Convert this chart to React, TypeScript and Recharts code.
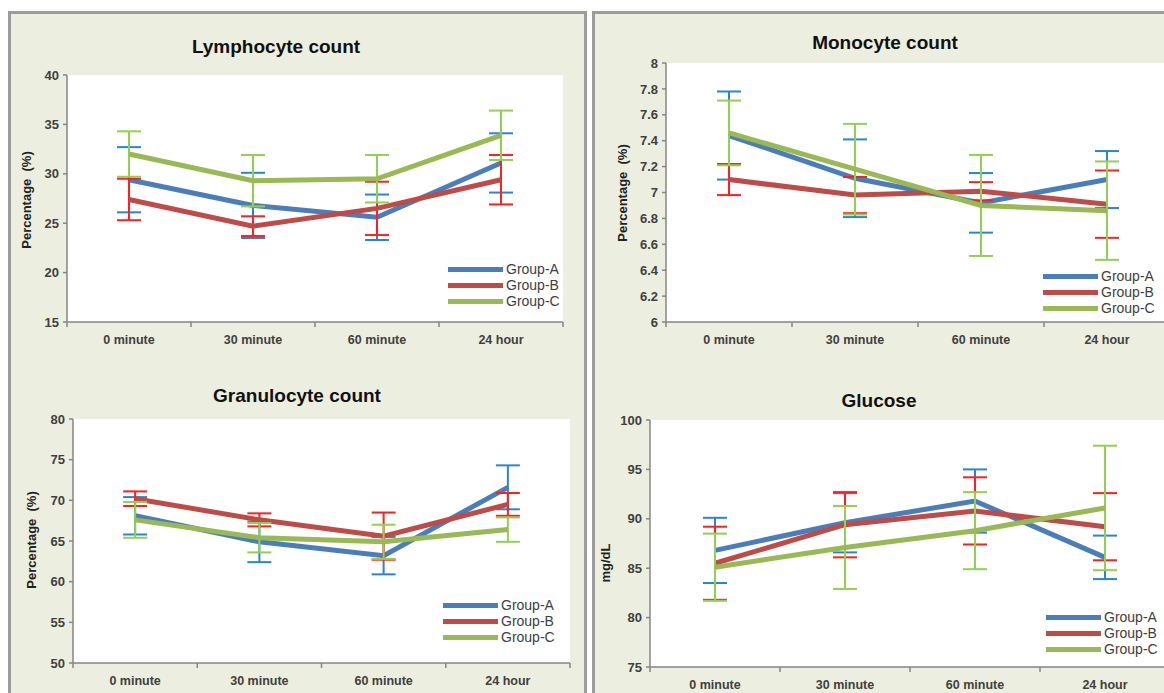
import React from 'react'
import { LineChart, Line, XAxis, YAxis, ErrorBar, CartesianGrid, Legend } from 'recharts'

// four Excel-style panels: means with SD error bars per group

const CATEGORIES = ['0 minute', '30 minute', '60 minute', '24 hour']
const GROUPS = ['Group-A', 'Group-B', 'Group-C']

const LYMPH_A = [29.4, 26.8, 25.6, 31.1]
const LYMPH_B = [27.4, 24.7, 26.5, 29.4]
const LYMPH_C = [32.0, 29.3, 29.5, 33.9]
const LYMPH_A_ERR = [3.3, 3.3, 2.3, 3.0]
const LYMPH_B_ERR = [2.1, 1.0, 2.7, 2.5]
const LYMPH_C_ERR = [2.3, 2.6, 2.4, 2.5]
const LYMPH_TICKS = [15, 20, 25, 30, 35, 40]

const MONO_A = [7.44, 7.11, 6.92, 7.1]
const MONO_B = [7.1, 6.98, 7.01, 6.91]
const MONO_C = [7.46, 7.18, 6.9, 6.86]
const MONO_A_ERR = [0.34, 0.3, 0.23, 0.22]
const MONO_B_ERR = [0.12, 0.14, 0.07, 0.26]
const MONO_C_ERR = [0.25, 0.35, 0.39, 0.38]
const MONO_TICKS = [6, 6.2, 6.4, 6.6, 6.8, 7, 7.2, 7.4, 7.6, 7.8, 8]

const GRAN_A = [68.1, 64.9, 63.2, 71.6]
const GRAN_B = [70.2, 67.6, 65.6, 69.5]
const GRAN_C = [67.6, 65.4, 64.9, 66.4]
const GRAN_A_ERR = [2.3, 2.5, 2.3, 2.7]
const GRAN_B_ERR = [0.9, 0.8, 2.9, 1.4]
const GRAN_C_ERR = [2.2, 1.8, 2.1, 1.5]
const GRAN_TICKS = [50, 55, 60, 65, 70, 75, 80]

const GLU_A = [86.8, 89.6, 91.8, 86.1]
const GLU_B = [85.5, 89.4, 90.8, 89.2]
const GLU_C = [85.1, 87.1, 88.8, 91.1]
const GLU_A_ERR = [3.3, 3.0, 3.2, 2.2]
const GLU_B_ERR = [3.7, 3.3, 3.4, 3.4]
const GLU_C_ERR = [3.4, 4.2, 3.9, 6.3]
const GLU_TICKS = [75, 80, 85, 90, 95, 100]

const LINE_COLORS = ['#4a7ebb', '#be4b48', '#98b954']
const BAR_COLORS = ['#2a84d6', '#ff1f1f', '#92d050']
const AXIS = '#868686'
const TEXT = '#404040'
const FONT = "'Liberation Sans Narrow', 'Liberation Sans', Arial, sans-serif"
const PANEL_BG = '#ecefdf'

// x ticks: integers carry labels, halves are the Excel-style boundary tick marks
const X_TICKS = [-0.5, 0, 0.5, 1, 1.5, 2, 2.5, 3, 3.5]

function makeRows(a: number[], b: number[], c: number[], ae: number[], be: number[], ce: number[]) {
  return CATEGORIES.map((_, i) => ({ i, a: a[i], b: b[i], c: c[i], aErr: ae[i], bErr: be[i], cErr: ce[i] }))
}

function XTick(props: any) {
  const { x, y, payload } = props
  const v = payload.value
  if (!Number.isInteger(v)) {
    return <line x1={x} x2={x} y1={y} y2={y + 5} stroke={AXIS} strokeWidth={1.5} />
  }
  return (
    <text x={x} y={y + 22} textAnchor="middle" fontSize={12.5} fontWeight="bold" fill={TEXT} fontFamily={FONT}>
      {CATEGORIES[v]}
    </text>
  )
}

function LegendBox() {
  return (
    <div style={{ fontFamily: FONT, fontSize: 14, color: TEXT, lineHeight: '16px' }}>
      {GROUPS.map((g, k) => (
        <div key={g} style={{ display: 'flex', alignItems: 'center', height: 16 }}>
          <span style={{ display: 'inline-block', width: 55, height: 5, background: LINE_COLORS[k], marginRight: 3 }} />
          <span>{g}</span>
        </div>
      ))}
    </div>
  )
}

type Box = { x: number; y: number; w: number; h: number }
type Plot = { l: number; t: number; r: number; b: number }

function Panel(props: {
  box: Box; plot: Plot; title: string; titleX: number; titleY: number
  yLabel: string; yLabelX: number; yLabelY: number; legendX: number; legendY: number
  rows: any[]; ticks: number[]; topBorder: boolean
}) {
  const { box, plot, rows, ticks } = props
  const YW = 42
  const XH = 30
  const margin = {
    top: plot.t - box.y,
    left: plot.l - box.x - YW,
    right: box.x + box.w - plot.r,
    bottom: box.y + box.h - plot.b - XH,
  }
  const keys = ['a', 'b', 'c']
  return (
    <>
      <div style={{
        position: 'absolute', left: box.x, top: box.y, width: box.w, height: box.h, boxSizing: 'border-box',
        background: PANEL_BG, borderLeft: '3px solid #9c9c9c', borderRight: '3px solid #9c9c9c',
        borderTop: props.topBorder ? '3px solid #9c9c9c' : 'none', borderBottom: '3px solid #9c9c9c',
      }} />
      <div style={{
        position: 'absolute', left: props.titleX, top: props.titleY - 12, transform: 'translateX(-50%)',
        fontFamily: FONT, fontWeight: 'bold', fontSize: 19, color: '#111', whiteSpace: 'nowrap', lineHeight: '24px',
      }}>{props.title}</div>
      <div style={{
        position: 'absolute', left: props.yLabelX, top: props.yLabelY, transform: 'translate(-50%, -50%) rotate(-90deg)',
        fontFamily: FONT, fontWeight: 'bold', fontSize: 13, color: '#222', whiteSpace: 'pre', lineHeight: '15px',
      }}>{props.yLabel}</div>
      <div style={{ position: 'absolute', left: box.x, top: box.y }}>
        <LineChart width={box.w} height={box.h} data={rows} margin={margin}>
          <CartesianGrid horizontal={false} vertical={false} fill="#ffffff" />
          <XAxis dataKey="i" type="number" domain={[-0.5, 3.5]} ticks={X_TICKS} interval={0}
            tick={<XTick />} tickLine={false} tickSize={0} tickMargin={0} height={XH}
            axisLine={{ stroke: AXIS, strokeWidth: 1.5 }} allowDataOverflow />
          <YAxis type="number" domain={[ticks[0], ticks[ticks.length - 1]]} ticks={ticks} interval={0} width={YW}
            tick={{ fontSize: 13, fontWeight: 'bold', fill: TEXT, fontFamily: FONT }}
            tickLine={{ stroke: AXIS, strokeWidth: 1.5 }} tickSize={4} tickMargin={4}
            axisLine={{ stroke: AXIS, strokeWidth: 1.5 }} allowDataOverflow />
          {keys.map((k, n) => (
            <Line key={k} dataKey={k} name={GROUPS[n]} type="linear" stroke={LINE_COLORS[n]} strokeWidth={5}
              dot={false} activeDot={false} isAnimationActive={false}>
              <ErrorBar dataKey={k + 'Err'} direction="y" width={12} stroke={BAR_COLORS[n]} strokeWidth={2} />
            </Line>
          ))}
          <Legend layout="vertical" align="center" verticalAlign="middle" content={<LegendBox />}
            wrapperStyle={{ left: props.legendX - box.x, top: props.legendY - box.y, width: 'auto', height: 'auto' }} />
        </LineChart>
      </div>
    </>
  )
}

export default function App() {
  return (
    <div style={{ position: 'absolute', left: 0, top: 0, width: 1164, height: 693, overflow: 'hidden', background: '#fff' }}>
      <Panel box={{ x: 8, y: 11, w: 579, h: 354 }} plot={{ l: 67, t: 75, r: 563, b: 322 }}
        title="Lymphocyte count" titleX={276} titleY={47}
        yLabel="Percentage  (%)" yLabelX={26} yLabelY={200} legendX={448} legendY={261}
        rows={makeRows(LYMPH_A, LYMPH_B, LYMPH_C, LYMPH_A_ERR, LYMPH_B_ERR, LYMPH_C_ERR)} ticks={LYMPH_TICKS} topBorder />
      <Panel box={{ x: 592, y: 11, w: 600, h: 354 }} plot={{ l: 666, t: 63, r: 1170, b: 322 }}
        title="Monocyte count" titleX={885} titleY={43}
        yLabel="Percentage  (%)" yLabelX={622} yLabelY={193} legendX={1043} legendY={268}
        rows={makeRows(MONO_A, MONO_B, MONO_C, MONO_A_ERR, MONO_B_ERR, MONO_C_ERR)} ticks={MONO_TICKS} topBorder />
      <Panel box={{ x: 8, y: 362, w: 579, h: 345 }} plot={{ l: 73, t: 419, r: 570, b: 663 }}
        title="Granulocyte count" titleX={297} titleY={396}
        yLabel="Percentage  (%)" yLabelX={31} yLabelY={540} legendX={443} legendY={597}
        rows={makeRows(GRAN_A, GRAN_B, GRAN_C, GRAN_A_ERR, GRAN_B_ERR, GRAN_C_ERR)} ticks={GRAN_TICKS} topBorder={false} />
      <Panel box={{ x: 592, y: 362, w: 600, h: 345 }} plot={{ l: 650, t: 420, r: 1170, b: 667 }}
        title="Glucose" titleX={879} titleY={401}
        yLabel="mg/dL" yLabelX={605} yLabelY={563} legendX={1046} legendY={609}
        rows={makeRows(GLU_A, GLU_B, GLU_C, GLU_A_ERR, GLU_B_ERR, GLU_C_ERR)} ticks={GLU_TICKS} topBorder={false} />
    </div>
  )
}
